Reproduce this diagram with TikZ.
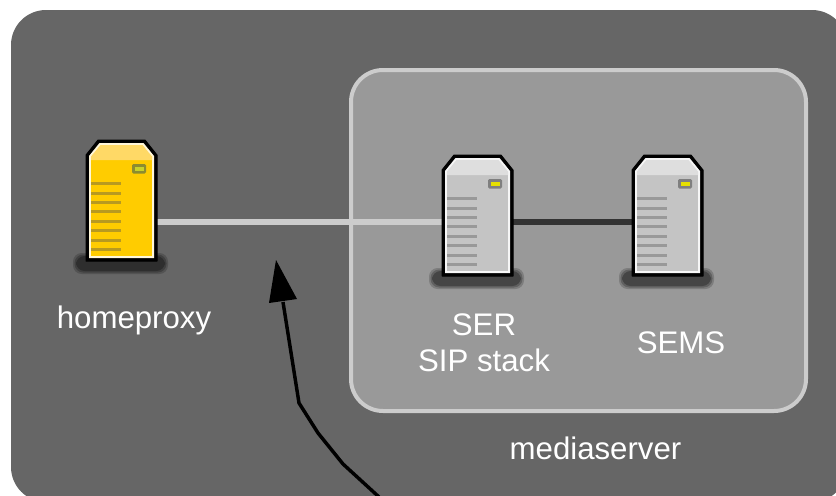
\documentclass[tikz,border=0pt]{standalone}
\usepackage{fontspec}
\setmainfont{Liberation Sans}
\usetikzlibrary{arrows.meta}
\definecolor{bgdark}{HTML}{666666}
\definecolor{boxfill}{HTML}{999999}
\definecolor{boxline}{HTML}{CCCCCC}
\definecolor{linkdark}{HTML}{333333}
\definecolor{ybody}{HTML}{FFCC00}
\definecolor{ytop}{HTML}{FFD966}
\definecolor{yslot}{HTML}{B89A20}
\definecolor{yled}{HTML}{C8D22A}
\definecolor{yledf}{HTML}{8C8C30}
\definecolor{gbody}{HTML}{C4C4C4}
\definecolor{gtop}{HTML}{DEDEDE}
\definecolor{gslot}{HTML}{999999}
\definecolor{gled}{HTML}{E6E000}
\definecolor{gledf}{HTML}{7F7F7F}
\tikzset{
  x=0.75pt,y=-0.75pt,
  lbl/.style={text=white,font=\fontsize{23.4}{27.2}\selectfont,align=center,inner sep=0pt},
  srvslot/.style={draw=none,inner sep=0pt,minimum width=52.5pt,minimum height=90pt},
  lightlink/.style={draw=boxline,line width=4.5pt},
  darklink/.style={draw=linkdark,line width=4.5pt},
  pics/server/.style n args={5}{code={
    \foreach \g/\o in {0/.18,1.5/.22,3/.28}{
      \fill[black,opacity=\o,rounded corners=6.5pt] (-13+\g,113+\g) rectangle (82-\g,134-\g);
    }
    \filldraw[black,line width=0.75pt,line join=round] (0,15) -- (12,0) -- (59,0) -- (71,15) -- (71,121) -- (0,121) -- cycle;
    \fill[white!85!#1] (3,16) -- (13.5,3) -- (57.5,3) -- (68,16) -- (68,118) -- (3,118) -- cycle;
    \fill[#1] (5,20) rectangle (66,116);
    \fill[#2] (5,16.5) -- (14.5,5) -- (56.5,5) -- (66,16.5) -- (66,20) -- (5,20) -- cycle;
    \foreach \yy in {42,52,61,70,80,89,99,108}{
      \fill[#3] (5,\yy) rectangle (35,\yy+3);
    }
    \fill[#5,rounded corners=1] (46,24) rectangle (60,33.5);
    \fill[#4] (48.5,26.5) rectangle (57.5,31);
  }}
}
\begin{document}
\begin{tikzpicture}
\useasboundingbox (0,0) rectangle (836,496);
\begin{scope}
\clip (0,0) rectangle (836,496);
\fill[white] (0,0) rectangle (836,496);
\fill[bgdark,rounded corners=26.25pt] (11,10) rectangle (847,502);
\end{scope}
\draw[fill=boxfill,draw=boxline,line width=3pt,rounded corners=24pt] (351,70) rectangle (806,411);

\node[srvslot] (homeproxy) at (122,200) {};
\node[srvslot] (ser) at (478,215) {};
\node[srvslot] (sems) at (667,215) {};

\draw[lightlink] ([yshift=-16.125pt]homeproxy.east) -- ([yshift=-4.875pt]ser.west);
\draw[darklink] ([yshift=-4.875pt]ser.east) -- ([yshift=-4.875pt]sems.west);

\pic at (86,140) {server={ybody}{ytop}{yslot}{yled}{yledf}};
\pic at (442,155) {server={gbody}{gtop}{gslot}{gled}{gledf}};
\pic at (632,155) {server={gbody}{gtop}{gslot}{gled}{gledf}};

\node[lbl] (lhome) at (134,320) {homeproxy};
\node[lbl] (lser) at (484,343) {SER\\SIP stack};
\node[lbl] (lsems) at (681,343) {SEMS};
\node[lbl] (lmedia) at (595.5,448) {mediaserver};

\coordinate (arrowstart) at (379,497);
\coordinate (arrowtip) at (276,260);
\fill[black] (arrowtip) -- (297,299) -- (269,303) -- cycle;
\draw[black,line width=2.6pt,line join=round]
  (arrowstart) -- (343,464) -- (318,433) -- (299,403) -- (283,302);
\end{tikzpicture}
\end{document}
